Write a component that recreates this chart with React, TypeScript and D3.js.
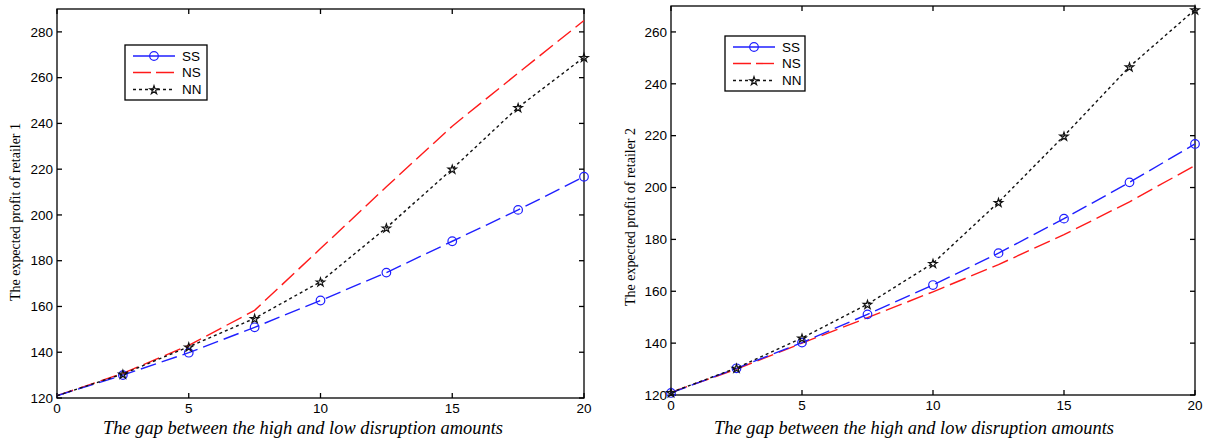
import React, { useEffect, useRef } from "react";
import * as d3 from "d3";

// gap between high and low disruption amounts
const gaps = [0, 2.5, 5, 7.5, 10, 12.5, 15, 17.5, 20];
const xTicks = [0, 5, 10, 15, 20];

// retailer 1
const ss1 = [121, 130, 139.8, 150.9, 162.6, 174.8, 188.5, 202.2, 216.7];
const ns1 = [121, 130.8, 143, 158.3, 185.3, 212.3, 238.8, 262, 285];
const nn1 = [121, 130.5, 142.4, 154.8, 170.8, 194.4, 220.1, 247, 268.9];
const yTicks1 = [120, 140, 160, 180, 200, 220, 240, 260, 280];

// retailer 2
const ss2 = [120.8, 130.3, 140.2, 151.1, 162.4, 174.7, 188, 202, 216.8];
const ns2 = [121, 130, 140, 149.8, 159.8, 170.3, 181.8, 194.5, 208.5];
const nn2 = [121, 130.4, 142, 155, 170.8, 194.3, 219.9, 246.6, 268.6];
const yTicks2 = [120, 140, 160, 180, 200, 220, 240, 260];

const seriesNames = ["SS", "NS", "NN"];
const xLabel = "The gap between the high and low disruption amounts";

const styles = {
  SS: { color: "#1f1fff", dash: "16,6", legendDash: null, marker: "circle" },
  NS: { color: "#ff1a1a", dash: "17,6", legendDash: "18,5", marker: null },
  NN: { color: "#111", dash: "3,3", legendDash: "3,3", marker: "star" }
};

const sans = "'Liberation Sans', Arial, sans-serif";
const serif = "'Liberation Serif', 'Times New Roman', serif";

function Panel({ box, yDomain, yTicks, series, yLabel, yLabelPos, xLabelX, legend, firstMarker }) {
  const ref = useRef(null);

  useEffect(() => {
    const g = d3.select(ref.current);
    const x = d3.scaleLinear().domain([0, 20]).range([box.left, box.right]);
    const y = d3.scaleLinear().domain(yDomain).range([box.bottom, box.top]);
    const tick = 5;

    // frame
    g.append("rect")
      .attr("x", box.left)
      .attr("y", box.top)
      .attr("width", box.right - box.left)
      .attr("height", box.bottom - box.top)
      .attr("fill", "none")
      .attr("stroke", "#000")
      .attr("stroke-width", 1.3);

    // inward ticks on all sides
    const ticks = g.append("g").attr("stroke", "#000").attr("stroke-width", 1.3);
    xTicks.forEach(t => {
      ticks.append("line").attr("x1", x(t)).attr("x2", x(t)).attr("y1", box.bottom).attr("y2", box.bottom - tick);
      ticks.append("line").attr("x1", x(t)).attr("x2", x(t)).attr("y1", box.top).attr("y2", box.top + tick);
    });
    yTicks.forEach(t => {
      ticks.append("line").attr("x1", box.left).attr("x2", box.left + tick).attr("y1", y(t)).attr("y2", y(t));
      ticks.append("line").attr("x1", box.right).attr("x2", box.right - tick).attr("y1", y(t)).attr("y2", y(t));
    });

    g.append("g")
      .selectAll("text")
      .data(xTicks)
      .join("text")
      .attr("x", d => x(d))
      .attr("y", box.bottom + 14.5)
      .attr("text-anchor", "middle")
      .attr("font-family", sans)
      .attr("font-size", 13.5)
      .text(d => d);

    g.append("g")
      .selectAll("text")
      .data(yTicks)
      .join("text")
      .attr("x", box.left - 4)
      .attr("y", d => y(d))
      .attr("dy", "0.35em")
      .attr("text-anchor", "end")
      .attr("font-family", sans)
      .attr("font-size", 13.5)
      .text(d => d);

    // axis titles
    g.append("text")
      .attr("transform", `translate(${yLabelPos[0]},${yLabelPos[1]}) rotate(-90)`)
      .attr("text-anchor", "middle")
      .attr("font-family", serif)
      .attr("font-size", 14)
      .attr("textLength", 178)
      .attr("lengthAdjust", "spacingAndGlyphs")
      .text(yLabel);

    g.append("text")
      .attr("x", xLabelX)
      .attr("y", 434)
      .attr("text-anchor", "middle")
      .attr("font-family", serif)
      .attr("font-style", "italic")
      .attr("font-size", 18)
      .attr("textLength", 400)
      .attr("lengthAdjust", "spacingAndGlyphs")
      .text(xLabel);

    const line = d3
      .line()
      .x(d => x(d[0]))
      .y(d => y(d[1]));

    const star = d3.symbol(d3.symbolStar, 22);

    const drawMarker = (sel, kind, color, cx, cy) => {
      if (kind === "circle") {
        sel.append("circle")
          .attr("cx", cx)
          .attr("cy", cy)
          .attr("r", 4.3)
          .attr("fill", "none")
          .attr("stroke", color)
          .attr("stroke-width", 1.2);
      } else if (kind === "star") {
        sel.append("path")
          .attr("d", star())
          .attr("transform", `translate(${cx},${cy + 0.6})`)
          .attr("fill", "none")
          .attr("stroke", color)
          .attr("stroke-width", 1.2);
      }
    };

    // draw NS first so SS / NN sit on top like the original
    ["NS", "SS", "NN"].forEach(name => {
      const st = styles[name];
      const pts = gaps.map((gp, i) => [gp, series[name][i]]);
      g.append("path")
        .attr("d", line(pts))
        .attr("fill", "none")
        .attr("stroke", st.color)
        .attr("stroke-width", 1.4)
        .attr("stroke-dasharray", st.dash);
      if (st.marker) {
        const mg = g.append("g");
        pts.slice(firstMarker).forEach(p => drawMarker(mg, st.marker, st.color, x(p[0]), y(p[1])));
      }
    });

    // legend
    const lg = g.append("g").attr("transform", `translate(${legend.x},${legend.y})`);
    lg.append("rect")
      .attr("width", legend.w)
      .attr("height", legend.h)
      .attr("fill", "#fff")
      .attr("stroke", "#000")
      .attr("stroke-width", 1.3);
    const rowY = [11, 27.5, 44.5];
    seriesNames.forEach((name, i) => {
      const st = styles[name];
      lg.append("line")
        .attr("x1", 8)
        .attr("x2", 50)
        .attr("y1", rowY[i])
        .attr("y2", rowY[i])
        .attr("stroke", st.color)
        .attr("stroke-width", 1.4)
        .attr("stroke-dasharray", st.legendDash);
      drawMarker(lg, st.marker, st.color, 29, rowY[i]);
      lg.append("text")
        .attr("x", 57)
        .attr("y", rowY[i])
        .attr("dy", "0.36em")
        .attr("font-family", sans)
        .attr("font-size", 13.5)
        .text(name);
    });

    return () => {
      g.html("");
    };
  }, [box, yDomain, yTicks, series, yLabel, yLabelPos, xLabelX, legend, firstMarker]);

  return <g ref={ref} />;
}

export default function App() {
  return (
    <svg
      width={1207}
      height={443}
      style={{ position: "absolute", left: 0, top: 0, background: "#fff" }}
    >
      <Panel
        box={{ left: 57, right: 584, top: 9, bottom: 398 }}
        yDomain={[120, 290]}
        yTicks={yTicks1}
        series={{ SS: ss1, NS: ns1, NN: nn1 }}
        yLabel="The expected profit of retailer 1"
        yLabelPos={[20, 212]}
        xLabelX={303}
        legend={{ x: 125, y: 45, w: 82, h: 55 }}
        firstMarker={1}
      />
      <Panel
        box={{ left: 671, right: 1195, top: 6, bottom: 395 }}
        yDomain={[120, 270]}
        yTicks={yTicks2}
        series={{ SS: ss2, NS: ns2, NN: nn2 }}
        yLabel="The expected profit of retailer 2"
        yLabelPos={[635, 217]}
        xLabelX={914}
        legend={{ x: 725, y: 36, w: 80, h: 55 }}
        firstMarker={0}
      />
    </svg>
  );
}
